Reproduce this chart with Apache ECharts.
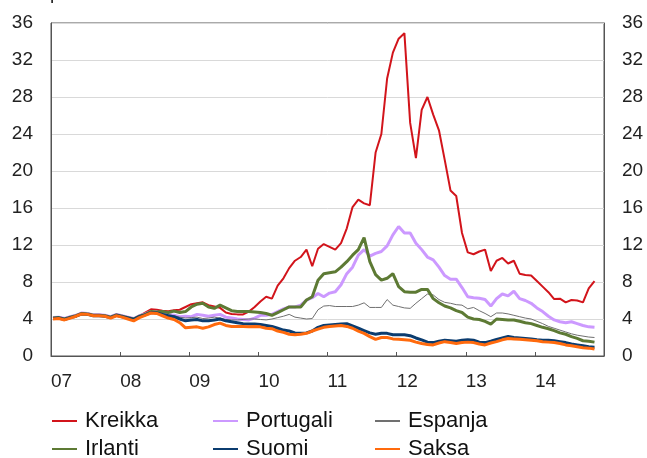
<!DOCTYPE html>
<html>
<head>
<meta charset="utf-8">
<script src="https://cdn.jsdelivr.net/npm/echarts@6/dist/echarts.min.js"></script>
<style>
  html, body { margin: 0; padding: 0; background: #fff; }
  #chart { width: 647px; height: 458px; }
</style>
</head>
<body>
<div id="chart"></div>
<script>
// kuukausittaiset arvot, tammikuu 2007 - marraskuu 2014
var yearLabels = ['07', '08', '09', '10', '11', '12', '13', '14'];
var yTicks = [0, 4, 8, 12, 16, 20, 24, 28, 32, 36];

var kreikka = [4.15, 4.2, 4.05, 4.25, 4.4, 4.65, 4.6, 4.45, 4.45, 4.4, 4.25, 4.5,
  4.35, 4.2, 4.05, 4.35, 4.7, 5.05, 5.0, 4.9, 4.85, 4.95, 5.0, 5.3,
  5.6, 5.7, 5.8, 5.5, 5.35, 5.2, 4.7, 4.55, 4.5, 4.5, 4.8, 5.3,
  5.9, 6.4, 6.2, 7.6, 8.4, 9.5, 10.3, 10.7, 11.5, 9.7, 11.6, 12.1,
  11.8, 11.5, 12.2, 13.8, 16.1, 16.9, 16.5, 16.3, 22.0, 24.0, 30.0, 32.8,
  34.3, 34.9, 25.2, 21.4, 26.6, 28.0, 26.1, 24.4, 21.2, 17.9, 17.3, 13.3,
  11.2, 11.0, 11.3, 11.5, 9.2, 10.3, 10.6, 10.0, 10.3, 8.9, 8.75, 8.7,
  8.1, 7.5, 6.9, 6.15, 6.2, 5.8, 6.05, 6.0, 5.8, 7.3, 8.1];

var portugali = [4.15, 4.2, 4.05, 4.25, 4.4, 4.65, 4.6, 4.45, 4.45, 4.4, 4.25, 4.5,
  4.35, 4.2, 4.05, 4.35, 4.55, 4.8, 4.75, 4.6, 4.5, 4.4, 4.25, 4.3,
  4.25, 4.5, 4.4, 4.3, 4.4, 4.5, 4.2, 4.1, 4.0, 3.95, 3.9, 4.1,
  4.4, 4.4, 4.5, 4.8, 5.1, 5.3, 5.3, 5.5, 6.05, 6.3, 6.75, 6.4,
  6.8, 6.95, 7.7, 8.9, 9.6, 10.9, 11.5, 10.8, 11.1, 11.3, 11.9, 13.1,
  14.0, 13.3, 13.3, 12.2, 11.5, 10.7, 10.4, 9.6, 8.7, 8.3, 8.3, 7.4,
  6.4, 6.3, 6.25, 6.1, 5.4, 6.2, 6.7, 6.5, 7.0, 6.2, 6.0, 5.7,
  5.2, 4.8, 4.3, 3.9, 3.7, 3.6, 3.7, 3.5, 3.3, 3.15, 3.1];

var espanja = [4.1, 4.15, 4.0, 4.2, 4.35, 4.6, 4.55, 4.4, 4.4, 4.35, 4.2, 4.45,
  4.3, 4.15, 4.0, 4.3, 4.5, 4.75, 4.7, 4.55, 4.45, 4.35, 4.2, 4.1,
  4.15, 4.2, 4.05, 4.1, 4.2, 4.1, 3.95, 3.9, 3.9, 3.95, 4.0, 4.0,
  3.95, 3.9, 4.0, 4.15, 4.3, 4.5, 4.2, 4.1, 4.0, 4.05, 5.0, 5.4,
  5.45, 5.35, 5.35, 5.35, 5.35, 5.5, 5.75, 5.25, 5.25, 5.25, 6.1, 5.5,
  5.35, 5.2, 5.15, 5.7, 6.2, 6.7, 6.6, 6.1, 5.8, 5.7, 5.55, 5.5,
  5.1, 5.25, 4.9, 4.6, 4.25, 4.65, 4.65, 4.55, 4.4, 4.25, 4.1, 4.0,
  3.75, 3.5, 3.2, 3.0, 2.8, 2.6, 2.4, 2.25, 2.15, 2.05, 2.0];

var irlanti = [4.1, 4.15, 4.0, 4.2, 4.35, 4.6, 4.55, 4.4, 4.4, 4.35, 4.2, 4.45,
  4.3, 4.15, 4.0, 4.3, 4.5, 4.8, 4.75, 4.8, 4.7, 4.85, 4.7, 4.8,
  5.3, 5.6, 5.7, 5.3, 5.15, 5.5, 5.2, 4.9, 4.8, 4.8, 4.8, 4.75,
  4.7, 4.6, 4.4, 4.7, 5.0, 5.3, 5.3, 5.3, 6.05, 6.4, 8.2, 8.9,
  9.0, 9.1, 9.6, 10.2, 10.9, 11.5, 12.8, 10.2, 8.8, 8.2, 8.4, 8.9,
  7.5, 6.95, 6.9, 6.9, 7.2, 7.2, 6.2, 5.75, 5.4, 5.2, 4.9, 4.7,
  4.2, 4.0, 3.95, 3.75, 3.45, 4.0, 3.95, 3.9, 3.9, 3.75, 3.6, 3.5,
  3.3, 3.1, 2.95, 2.75, 2.5, 2.35, 2.1, 1.9, 1.65, 1.6, 1.5];

var suomi = [4.05, 4.1, 3.95, 4.15, 4.3, 4.55, 4.5, 4.35, 4.35, 4.3, 4.15, 4.4,
  4.25, 4.1, 3.95, 4.25, 4.45, 4.7, 4.65, 4.5, 4.35, 4.25, 4.0, 3.8,
  3.9, 3.95, 3.8, 3.8, 3.9, 4.0, 3.8, 3.7, 3.6, 3.5, 3.45, 3.45,
  3.4, 3.3, 3.2, 3.0, 2.8, 2.7, 2.5, 2.45, 2.5, 2.7, 3.1, 3.3,
  3.35, 3.4, 3.45, 3.5, 3.25, 3.0, 2.75, 2.5, 2.35, 2.45, 2.45, 2.3,
  2.3, 2.3, 2.2, 1.95, 1.75, 1.5, 1.45, 1.6, 1.7, 1.65, 1.6, 1.7,
  1.75, 1.7, 1.5, 1.45, 1.6, 1.8, 1.95, 2.1, 2.0, 1.95, 1.9, 1.85,
  1.75, 1.7, 1.7, 1.65, 1.55, 1.45, 1.3, 1.2, 1.1, 1.0, 0.95];

var saksa = [4.0, 4.05, 3.9, 4.1, 4.3, 4.55, 4.5, 4.35, 4.35, 4.3, 4.1, 4.35,
  4.2, 4.0, 3.8, 4.15, 4.4, 4.65, 4.6, 4.35, 4.1, 3.95, 3.6, 3.05,
  3.1, 3.15, 3.0, 3.15, 3.4, 3.55, 3.3, 3.2, 3.2, 3.2, 3.15, 3.2,
  3.15, 3.0, 2.95, 2.7, 2.55, 2.35, 2.3, 2.35, 2.45, 2.7, 2.9, 3.1,
  3.2, 3.25, 3.3, 3.2, 3.0, 2.7, 2.45, 2.1, 1.8, 2.0, 2.0, 1.85,
  1.8, 1.75, 1.7, 1.5, 1.35, 1.25, 1.2, 1.4, 1.55, 1.45, 1.35, 1.45,
  1.5, 1.45, 1.3, 1.2, 1.4, 1.55, 1.75, 1.9, 1.85, 1.8, 1.75, 1.7,
  1.65, 1.55, 1.5, 1.45, 1.35, 1.2, 1.1, 1.0, 0.9, 0.85, 0.75];

(function () {
    var chart = echarts.init(document.getElementById('chart'));
    var font = 'Liberation Sans, Arial, sans-serif';

    // kuukauden arvo piirretään hieman kuukauden alun jälkeen
    function toPoints(arr) {
        return arr.map(function (v, i) { return [i + 0.35, v]; });
    }

    var defs = [
        { name: 'Kreikka', data: kreikka, color: '#d2141b', width: 2 },
        { name: 'Portugali', data: portugali, color: '#cc99ff', width: 3 },
        { name: 'Espanja', data: espanja, color: '#707070', width: 1 },
        { name: 'Irlanti', data: irlanti, color: '#5d7a34', width: 3 },
        { name: 'Suomi', data: suomi, color: '#0b3c6f', width: 3 },
        { name: 'Saksa', data: saksa, color: '#ff6a0d', width: 3 }
    ];

    var legendPos = [[52, 410], [213, 410], [375, 410], [52, 438], [213, 438], [375, 438]];

    var yAxisBase = {
        type: 'value',
        min: 0,
        max: 36,
        interval: 4,
        axisLine: { show: true, lineStyle: { color: '#555', width: 1 } },
        axisTick: { show: false },
        axisLabel: { color: '#222', fontSize: 19, fontFamily: font, margin: 18,
            formatter: function (v) { return yTicks.indexOf(v) >= 0 ? String(v) : ''; } }
    };

    var option = {
        animation: false,
        backgroundColor: '#fff',
        graphic: [{
            type: 'text', left: 50, top: -16,
            style: { text: 'prosenttia', fontSize: 19, fontFamily: font, fill: '#222' }
        }],
        grid: { left: 51, right: 43, top: 23, bottom: 102, show: true,
            borderColor: '#555', borderWidth: 1 },
        xAxis: {
            type: 'value',
            min: 0,
            max: 96,
            interval: 12,
            axisLine: { show: true, onZero: false, lineStyle: { color: '#555', width: 1 } },
            axisTick: { show: true, inside: true, length: 4, lineStyle: { color: '#555' } },
            splitLine: { show: false },
            axisLabel: { color: '#222', fontSize: 19, fontFamily: font, margin: 16, align: 'left',
                showMaxLabel: false,
                formatter: function (v) { return yearLabels[v / 12] || ''; } }
        },
        yAxis: [
            Object.assign({}, yAxisBase, {
                position: 'left',
                splitLine: { show: true, lineStyle: { color: '#d9d9d9', width: 1 } }
            }),
            Object.assign({}, yAxisBase, {
                position: 'right',
                splitLine: { show: false }
            })
        ],
        legend: defs.map(function (d, i) {
            return {
                data: [d.name],
                left: legendPos[i][0],
                top: legendPos[i][1],
                icon: 'rect',
                itemWidth: 25,
                itemHeight: 2,
                itemGap: 0,
                padding: 0,
                textStyle: { color: '#111', fontSize: 22, fontFamily: font, padding: [0, 0, 0, 3] }
            };
        }),
        series: defs.map(function (d) {
            return {
                name: d.name,
                type: 'line',
                symbol: 'none',
                yAxisIndex: 0,
                data: toPoints(d.data),
                lineStyle: { color: d.color, width: d.width },
                itemStyle: { color: d.color }
            };
        })
    };

    chart.setOption(option);
})();
</script>
</body>
</html>
